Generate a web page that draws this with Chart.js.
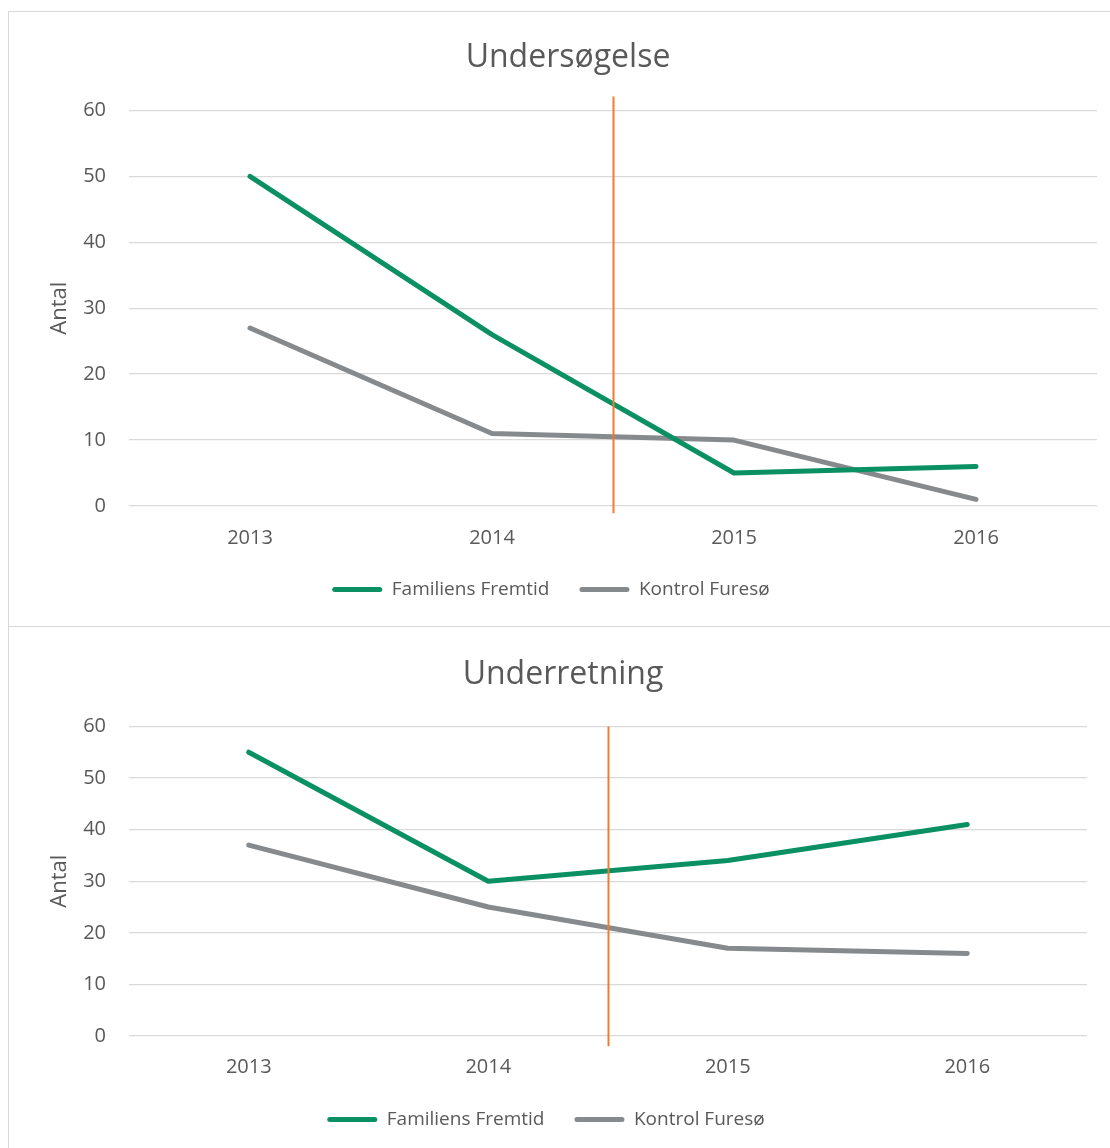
<!DOCTYPE html>
<html>
<head>
<meta charset="utf-8">
<script src="https://cdn.jsdelivr.net/npm/chart.js@4.4.0/dist/chart.umd.min.js"></script>
<style>
  body { margin: 0; background: #fff; width: 1110px; height: 1148px; overflow: hidden; position: relative; }
  .panel { position: absolute; left: 8px; width: 1110px; border: 1px solid #d9d9d9; box-sizing: border-box; background: #fff; }
  #p1 { top: 11px; height: 616px; }
  #p2 { top: 626px; height: 540px; }
  .box { position: relative; width: 1108px; }
  #p1 .box { height: 614px; }
  #p2 .box { height: 538px; }
</style>
</head>
<body>
<div class="panel" id="p1"><div class="box"><canvas id="chart1"></canvas></div></div>
<div class="panel" id="p2"><div class="box"><canvas id="chart2"></canvas></div></div>
<script>
// data
const years = ["2013", "2014", "2015", "2016"];
const seriesNames = ["Familiens Fremtid", "Kontrol Furesø"];

const undersogelseFF = [50, 26, 5, 6];
const undersogelseKF = [27, 11, 10, 1];

const underretningFF = [55, 30, 34, 41];
const underretningKF = [37, 25, 17, 16];

const yTicks = [0, 10, 20, 30, 40, 50, 60];

// marker line between 2014 and 2015 (category index 1.5), from / to in axis units
const markerIndex = 1.5;
const markerRange1 = [-1.1, 62.1];
const markerRange2 = [-2, 60];

const green = "#0b9064";
const gray = "#878a8c";
const orange = "#ed7d31";
const textColor = "#595959";

Chart.defaults.font.family = "'Open Sans', sans-serif";
Chart.defaults.color = textColor;

const markerLine = {
  id: "markerLine",
  afterLayout(chart, args, opts) {
    // legend sits a bit left of centre in the original
    chart.legend.left += opts.legendShift;
    chart.legend.right += opts.legendShift;
  },
  afterDatasetsDraw(chart, args, opts) {
    const { ctx, scales: { x, y } } = chart;
    const px = Math.round(x.getPixelForValue(opts.index)) + 0.5;
    ctx.save();
    ctx.strokeStyle = orange;
    ctx.lineWidth = 2;
    ctx.beginPath();
    ctx.moveTo(px, y.getPixelForValue(opts.range[1]));
    ctx.lineTo(px, y.getPixelForValue(opts.range[0]));
    ctx.stroke();
    ctx.restore();
  },
};

function makeChart(id, title, ff, kf, range, pad) {
  return new Chart(document.getElementById(id), {
    type: "line",
    data: {
      labels: years,
      datasets: [
        { label: seriesNames[0], data: ff, borderColor: green, backgroundColor: green },
        { label: seriesNames[1], data: kf, borderColor: gray, backgroundColor: gray },
      ],
    },
    options: {
      responsive: true,
      maintainAspectRatio: false,
      animation: false,
      layout: { padding: { left: 30, right: pad.right, top: 0, bottom: pad.bottom } },
      elements: {
        line: { borderWidth: 5, tension: 0, borderCapStyle: "round", borderJoinStyle: "round" },
        point: { radius: 0, hoverRadius: 0 },
      },
      plugins: {
        title: {
          display: true,
          text: title,
          color: textColor,
          font: { size: 32, weight: "normal" },
          padding: { top: pad.titleTop, bottom: pad.titleBottom },
        },
        legend: {
          position: "bottom",
          labels: {
            color: textColor,
            font: { size: 19 },
            boxWidth: 50,
            boxHeight: 5,
            padding: 30,
            useBorderRadius: true,
            borderRadius: 2.5,
            generateLabels(chart) {
              return Chart.defaults.plugins.legend.labels.generateLabels(chart).map((item) => {
                item.lineWidth = 0;
                item.fillStyle = item.strokeStyle;
                return item;
              });
            },
          },
        },
        tooltip: { enabled: false },
        markerLine: { index: markerIndex, range: range, legendShift: -17 },
      },
      scales: {
        x: {
          offset: true,
          grid: { display: false, offset: true, drawTicks: false },
          border: { display: false },
          afterFit(scale) { scale.height = 44; },
          ticks: { font: { size: 20 }, color: textColor, padding: pad.xTick, maxRotation: 0 },
        },
        y: {
          min: yTicks[0],
          max: yTicks[yTicks.length - 1],
          grid: { color: "#d9d9d9", lineWidth: 1.3, drawTicks: false },
          border: { display: false },
          afterFit(scale) { scale.width = 90; },
          afterBuildTicks(scale) { scale.ticks = yTicks.map((v) => ({ value: v })); },
          ticks: { font: { size: 20 }, color: textColor, padding: 23 },
          title: { display: true, text: "Antal", color: textColor, font: { size: 22 }, padding: { top: 8, bottom: 0 } },
        },
      },
    },
    plugins: [markerLine],
  });
}

makeChart("chart1", "Undersøgelse", undersogelseFF, undersogelseKF, markerRange1,
  { right: 20, bottom: 17, titleTop: 27, titleBottom: 33, xTick: 20 });
makeChart("chart2", "Underretning", underretningFF, underretningKF, markerRange2,
  { right: 30, bottom: 26, titleTop: 29, titleBottom: 32, xTick: 19 });
</script>
</body>
</html>
